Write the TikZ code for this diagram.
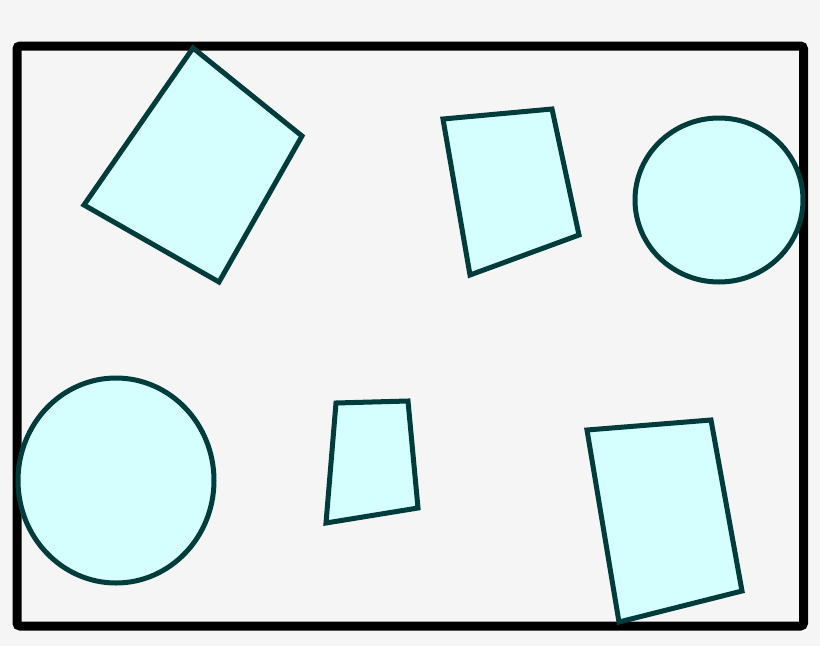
\documentclass[tikz,border=0pt]{standalone}
\usetikzlibrary{shapes.geometric}
\definecolor{bgc}{HTML}{F5F5F5}
\definecolor{shapefill}{HTML}{D5FFFF}
\definecolor{shapeline}{HTML}{003C3C}
\tikzset{
  piece/.style={fill=shapefill,draw=shapeline,line width=5pt,line join=miter},
  frame/.style={draw=black,line width=9pt,rounded corners=3pt}
}
\begin{document}
\begin{tikzpicture}[x=1pt,y=-1pt]
\fill[bgc] (0,0) rectangle (820,646);
\useasboundingbox (0,0) rectangle (820,646);
\draw[frame] (17,46) rectangle (803.5,626);
% quadrilaterals
\draw[piece] (193,48) -- (302,136) -- (219,282) -- (84,205) -- cycle;
\draw[piece] (443,119) -- (552,109) -- (579,235) -- (470,275) -- cycle;
\draw[piece] (336,403) -- (408,401) -- (418,508) -- (326,523) -- cycle;
\draw[piece] (587,430) -- (711,420) -- (742,591) -- (619,622) -- cycle;
% circles
\draw[piece] (719,200) ellipse [x radius=84, y radius=82];
\draw[piece] (116,480.5) ellipse [x radius=98, y radius=102.5];
\end{tikzpicture}
\end{document}
